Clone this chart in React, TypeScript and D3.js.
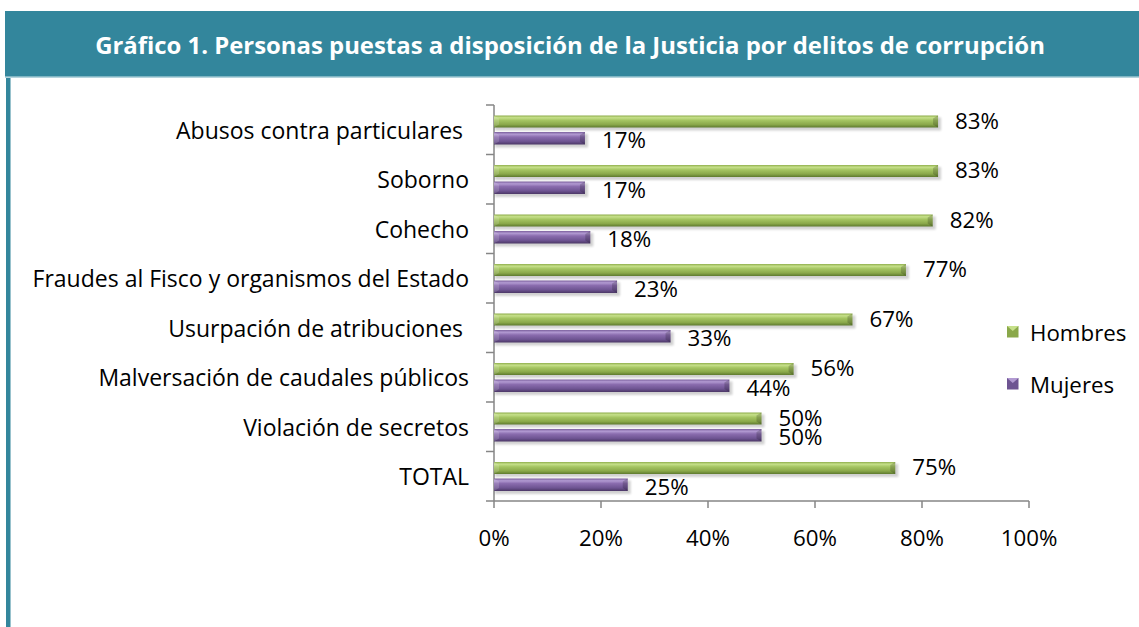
import React from "react";
import * as d3 from "d3";

const categories = [
  "Abusos contra particulares ",
  "Soborno",
  "Cohecho",
  "Fraudes al Fisco y organismos del Estado",
  "Usurpación de atribuciones ",
  "Malversación de caudales públicos",
  "Violación de secretos",
  "TOTAL",
];
const hombres = [83, 83, 82, 77, 67, 56, 50, 75];
const mujeres = [17, 17, 18, 23, 33, 44, 50, 25];
const xTicks = [0, 20, 40, 60, 80, 100];
const seriesNames = ["Hombres", "Mujeres"];

const W = 1139;
const H = 627;
const FONT = "'Open Sans', 'Noto Sans', 'Liberation Sans', sans-serif";

export default function App() {
  const x = d3.scaleLinear().domain([0, 100]).range([494, 1029]);
  const y = d3.scaleBand().domain(categories).range([105, 501]).paddingInner(0).paddingOuter(0);
  const bw = y.bandwidth();
  const barH = 12;
  const gap = 4.5;
  const yH = (c: string) => (y(c) as number) + bw / 2 - gap / 2 - barH;
  const yM = (c: string) => (y(c) as number) + bw / 2 + gap / 2;
  const fs = 22.3;
  const fsCat = 23;

  const bar = (x0: number, y0: number, w: number, h: number, grad: string, key: string) => (
    <g key={key}>
      <rect x={x0 + 1} y={y0 + 2} width={w + 2} height={h + 1} fill="#000" opacity={0.18} filter="url(#blur)" />
      <rect x={x0} y={y0} width={w} height={h} fill={`url(#${grad})`} />
      <polygon
        points={`${x0 + w},${y0} ${x0 + w},${y0 + h} ${x0 + w - 5},${y0 + h - 3} ${x0 + w - 5},${y0 + 3}`}
        fill="#000"
        opacity={0.18}
      />
      <polygon
        points={`${x0},${y0} ${x0 + 5},${y0 + 3} ${x0 + 5},${y0 + h - 3} ${x0},${y0 + h}`}
        fill="#fff"
        opacity={0.15}
      />
    </g>
  );

  return (
    <svg width={W} height={H} style={{ position: "absolute", left: 0, top: 0 }} fontFamily={FONT}>
      <defs>
        <linearGradient id="gG" x1="0" y1="0" x2="0" y2="1">
          <stop offset="0" stopColor="#8fae4c" />
          <stop offset="0.18" stopColor="#c6e08a" />
          <stop offset="0.4" stopColor="#a5c562" />
          <stop offset="0.75" stopColor="#8aa84a" />
          <stop offset="1" stopColor="#5e7a2e" />
        </linearGradient>
        <linearGradient id="gP" x1="0" y1="0" x2="0" y2="1">
          <stop offset="0" stopColor="#7a5e9c" />
          <stop offset="0.18" stopColor="#b29ad2" />
          <stop offset="0.4" stopColor="#8a6cae" />
          <stop offset="0.75" stopColor="#6e5492" />
          <stop offset="1" stopColor="#4b3766" />
        </linearGradient>
        <filter id="blur" x="-5%" y="-50%" width="110%" height="200%">
          <feGaussianBlur stdDeviation="1.2" />
        </filter>
      </defs>
      <rect x={0} y={0} width={W} height={H} fill="#fff" />
      {/* header */}
      <rect x={5} y={11} width={W - 5} height={66} fill="#33869c" />
      <line x1={5} x2={W} y1={77} y2={77} stroke="#9cc6d2" strokeWidth={1.5} />
      <rect x={6} y={78} width={4.5} height={H - 78} fill="#33869c" />
      <text x={570} y={44} textAnchor="middle" dominantBaseline="central" fill="#fff" fontSize={23.9} fontWeight="bold">
        Gráfico 1. Personas puestas a disposición de la Justicia por delitos de corrupción
      </text>

      {/* axes */}
      <line x1={x(0)} x2={x(0)} y1={105} y2={501} stroke="#868686" strokeWidth={1.5} />
      <line x1={x(0)} x2={x(100)} y1={501} y2={501} stroke="#868686" strokeWidth={1.5} />
      {d3.range(categories.length + 1).map((i) => {
        const yy = 105 + i * bw;
        return <line key={"yt" + i} x1={486} x2={x(0)} y1={yy} y2={yy} stroke="#868686" strokeWidth={1.5} />;
      })}
      {xTicks.map((t) => (
        <g key={"xt" + t}>
          <line x1={x(t)} x2={x(t)} y1={501} y2={508} stroke="#868686" strokeWidth={1.5} />
          <text x={x(t)} y={537} textAnchor="middle" dominantBaseline="central" fontSize={fs} fill="#000">
            {t}%
          </text>
        </g>
      ))}
      {categories.map((c) => (
        <text
          key={"cl" + c}
          x={469}
          y={(y(c) as number) + bw / 2}
          textAnchor="end"
          dominantBaseline="central"
          fontSize={fsCat}
          fill="#000"
          style={{ whiteSpace: "pre" }}
        >
          {c}
        </text>
      ))}

      {/* bars */}
      {categories.map((c, i) => (
        <g key={"b" + i}>
          {bar(x(0), yH(c), x(hombres[i]) - x(0), barH, "gG", "h" + i)}
          {bar(x(0), yM(c), x(mujeres[i]) - x(0), barH + 0.5, "gP", "m" + i)}
          <text x={x(hombres[i]) + 17} y={yH(c) + barH / 2 - 1.5} dominantBaseline="central" fontSize={fs} fill="#000">
            {hombres[i]}%
          </text>
          <text x={x(mujeres[i]) + 17} y={yM(c) + barH / 2 + 1.5} dominantBaseline="central" fontSize={fs} fill="#000">
            {mujeres[i]}%
          </text>
        </g>
      ))}

      {/* legend */}
      {seriesNames.map((s, i) => {
        const ly = 326 + i * 52;
        return (
          <g key={"lg" + s}>
            <rect x={1007} y={ly} width={11.5} height={11.5} fill={i === 0 ? "#8aa84a" : "#6e5492"} />
            <polygon
              points={`${1007},${ly} ${1018.5},${ly} ${1012.75},${ly + 5}`}
              fill={i === 0 ? "#c6e08a" : "#b29ad2"}
            />
            <text x={1030} y={ly + 6} dominantBaseline="central" fontSize={fs} fill="#000">
              {s}
            </text>
          </g>
        );
      })}
    </svg>
  );
}
